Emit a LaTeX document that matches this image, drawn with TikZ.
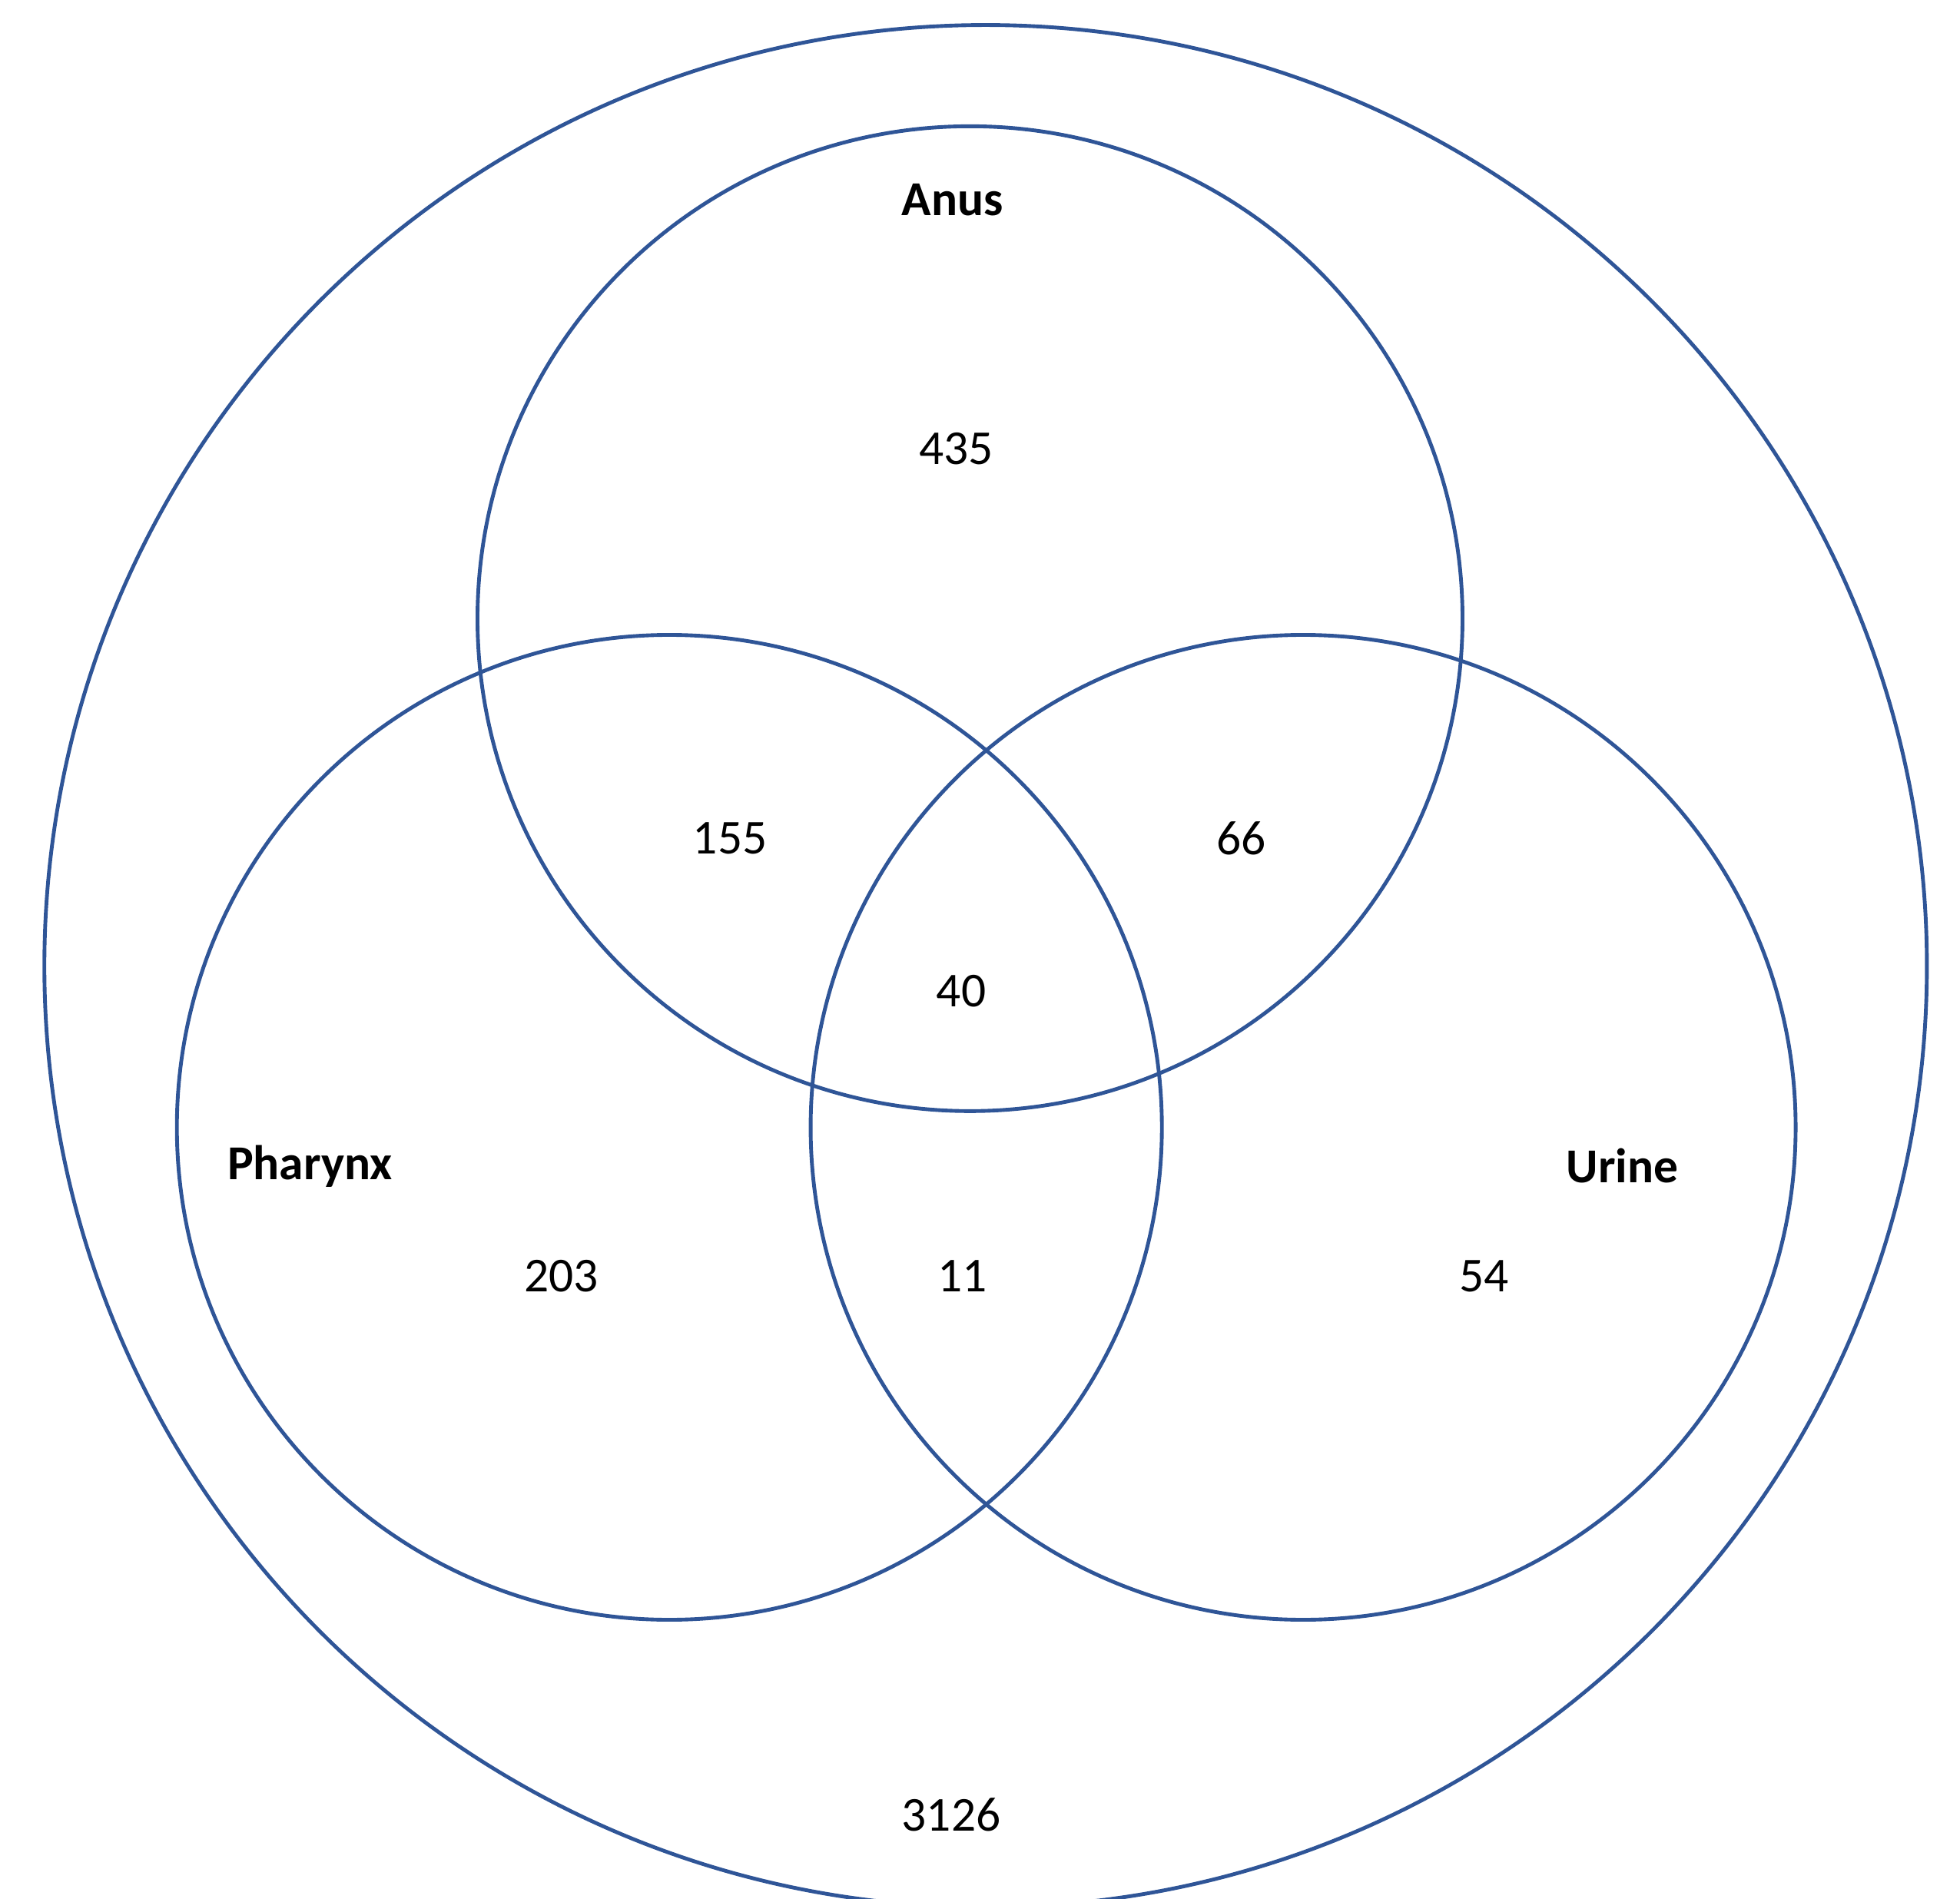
\documentclass[tikz,border=0pt]{standalone}
\usepackage{fontspec}
\setmainfont{Carlito}
\definecolor{ring}{HTML}{2F5597}

\begin{document}
\begin{tikzpicture}[x=1pt,y=-1pt,
    font=\fontsize{39}{46}\selectfont,
    set/.style={draw=ring,line width=3pt},
    count/.style={inner sep=0pt,anchor=center},
    title/.style={inner sep=0pt,anchor=center,font=\fontsize{39}{46}\selectfont\bfseries}
  ]
  \useasboundingbox (0,0) rectangle (1568,1519);
  % universe and the three sets
  \draw[set] (788.5,773) circle[radius=753];
  \draw[set] (776,495) circle[radius=394];
  \draw[set] (535.5,902) circle[radius=394];
  \draw[set] (1042.5,902) circle[radius=394];
  % set names
  \node[title] (anus) at (762,160) {Anus};
  \node[title] (pharynx) at (248,933) {Pharynx};
  \node[title] (urine) at (1298,933) {Urine};
  % region counts
  \node[count] (a) at (765,359) {435};
  \node[count] (ap) at (584,671) {155};
  \node[count] (au) at (993,671) {66};
  \node[count] (apu) at (769,793) {40};
  \node[count] (p) at (449,1021) {203};
  \node[count] (pu) at (770,1021) {11};
  \node[count] (u) at (1187,1021) {54};
  \node[count] (rest) at (761,1452) {3126};
\end{tikzpicture}
\end{document}
